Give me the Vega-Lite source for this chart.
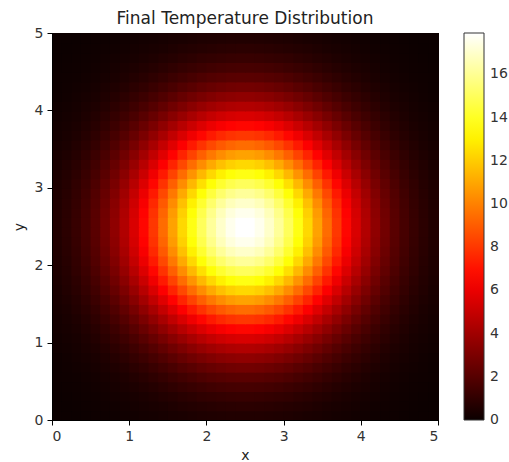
{"$schema":"https://vega.github.io/schema/vega-lite/v6.json","width":386,"height":387,"autosize":"none","padding":{"left":52,"top":33,"right":71,"bottom":42},"background":"white","title":{"text":"Final Temperature Distribution","font":"DejaVu Sans","fontSize":17,"fontWeight":"normal","color":"#222","offset":0,"dy":2,"frame":"group","anchor":"middle"},
"data":{"values":[
{"x":0,"y":0,"t":0.02},{"x":0.125,"y":0,"t":0.03},{"x":0.25,"y":0,"t":0.04},{"x":0.375,"y":0,"t":0.05},{"x":0.5,"y":0,"t":0.07},{"x":0.625,"y":0,"t":0.09},{"x":0.75,"y":0,"t":0.12},{"x":0.875,"y":0,"t":0.15},{"x":1,"y":0,"t":0.19},{"x":1.125,"y":0,"t":0.23},{"x":1.25,"y":0,"t":0.27},{"x":1.375,"y":0,"t":0.32},{"x":1.5,"y":0,"t":0.37},{"x":1.625,"y":0,"t":0.41},{"x":1.75,"y":0,"t":0.46},{"x":1.875,"y":0,"t":0.5},{"x":2,"y":0,"t":0.54},{"x":2.125,"y":0,"t":0.57},{"x":2.25,"y":0,"t":0.59},{"x":2.375,"y":0,"t":0.6},{"x":2.5,"y":0,"t":0.6},{"x":2.625,"y":0,"t":0.59},{"x":2.75,"y":0,"t":0.57},{"x":2.875,"y":0,"t":0.54},{"x":3,"y":0,"t":0.5},{"x":3.125,"y":0,"t":0.46},{"x":3.25,"y":0,"t":0.41},{"x":3.375,"y":0,"t":0.37},{"x":3.5,"y":0,"t":0.32},{"x":3.625,"y":0,"t":0.27},{"x":3.75,"y":0,"t":0.23},{"x":3.875,"y":0,"t":0.19},{"x":4,"y":0,"t":0.15},{"x":4.125,"y":0,"t":0.12},{"x":4.25,"y":0,"t":0.09},{"x":4.375,"y":0,"t":0.07},{"x":4.5,"y":0,"t":0.05},{"x":4.625,"y":0,"t":0.04},{"x":4.75,"y":0,"t":0.03},{"x":4.875,"y":0,"t":0.02},
{"x":0,"y":0.125,"t":0.03},{"x":0.125,"y":0.125,"t":0.04},{"x":0.25,"y":0.125,"t":0.06},{"x":0.375,"y":0.125,"t":0.07},{"x":0.5,"y":0.125,"t":0.1},{"x":0.625,"y":0.125,"t":0.13},{"x":0.75,"y":0.125,"t":0.17},{"x":0.875,"y":0.125,"t":0.21},{"x":1,"y":0.125,"t":0.26},{"x":1.125,"y":0.125,"t":0.32},{"x":1.25,"y":0.125,"t":0.38},{"x":1.375,"y":0.125,"t":0.44},{"x":1.5,"y":0.125,"t":0.51},{"x":1.625,"y":0.125,"t":0.58},{"x":1.75,"y":0.125,"t":0.65},{"x":1.875,"y":0.125,"t":0.71},{"x":2,"y":0.125,"t":0.76},{"x":2.125,"y":0.125,"t":0.8},{"x":2.25,"y":0.125,"t":0.83},{"x":2.375,"y":0.125,"t":0.85},{"x":2.5,"y":0.125,"t":0.85},{"x":2.625,"y":0.125,"t":0.83},{"x":2.75,"y":0.125,"t":0.8},{"x":2.875,"y":0.125,"t":0.76},{"x":3,"y":0.125,"t":0.71},{"x":3.125,"y":0.125,"t":0.65},{"x":3.25,"y":0.125,"t":0.58},{"x":3.375,"y":0.125,"t":0.51},{"x":3.5,"y":0.125,"t":0.44},{"x":3.625,"y":0.125,"t":0.38},{"x":3.75,"y":0.125,"t":0.32},{"x":3.875,"y":0.125,"t":0.26},{"x":4,"y":0.125,"t":0.21},{"x":4.125,"y":0.125,"t":0.17},{"x":4.25,"y":0.125,"t":0.13},{"x":4.375,"y":0.125,"t":0.1},{"x":4.5,"y":0.125,"t":0.07},{"x":4.625,"y":0.125,"t":0.06},{"x":4.75,"y":0.125,"t":0.04},{"x":4.875,"y":0.125,"t":0.03},
{"x":0,"y":0.25,"t":0.04},{"x":0.125,"y":0.25,"t":0.06},{"x":0.25,"y":0.25,"t":0.08},{"x":0.375,"y":0.25,"t":0.1},{"x":0.5,"y":0.25,"t":0.14},{"x":0.625,"y":0.25,"t":0.18},{"x":0.75,"y":0.25,"t":0.23},{"x":0.875,"y":0.25,"t":0.29},{"x":1,"y":0.25,"t":0.36},{"x":1.125,"y":0.25,"t":0.44},{"x":1.25,"y":0.25,"t":0.52},{"x":1.375,"y":0.25,"t":0.61},{"x":1.5,"y":0.25,"t":0.71},{"x":1.625,"y":0.25,"t":0.8},{"x":1.75,"y":0.25,"t":0.89},{"x":1.875,"y":0.25,"t":0.98},{"x":2,"y":0.25,"t":1.05},{"x":2.125,"y":0.25,"t":1.11},{"x":2.25,"y":0.25,"t":1.15},{"x":2.375,"y":0.25,"t":1.17},{"x":2.5,"y":0.25,"t":1.17},{"x":2.625,"y":0.25,"t":1.15},{"x":2.75,"y":0.25,"t":1.11},{"x":2.875,"y":0.25,"t":1.05},{"x":3,"y":0.25,"t":0.98},{"x":3.125,"y":0.25,"t":0.89},{"x":3.25,"y":0.25,"t":0.8},{"x":3.375,"y":0.25,"t":0.71},{"x":3.5,"y":0.25,"t":0.61},{"x":3.625,"y":0.25,"t":0.52},{"x":3.75,"y":0.25,"t":0.44},{"x":3.875,"y":0.25,"t":0.36},{"x":4,"y":0.25,"t":0.29},{"x":4.125,"y":0.25,"t":0.23},{"x":4.25,"y":0.25,"t":0.18},{"x":4.375,"y":0.25,"t":0.14},{"x":4.5,"y":0.25,"t":0.1},{"x":4.625,"y":0.25,"t":0.08},{"x":4.75,"y":0.25,"t":0.06},{"x":4.875,"y":0.25,"t":0.04},
{"x":0,"y":0.375,"t":0.05},{"x":0.125,"y":0.375,"t":0.07},{"x":0.25,"y":0.375,"t":0.1},{"x":0.375,"y":0.375,"t":0.14},{"x":0.5,"y":0.375,"t":0.19},{"x":0.625,"y":0.375,"t":0.24},{"x":0.75,"y":0.375,"t":0.31},{"x":0.875,"y":0.375,"t":0.39},{"x":1,"y":0.375,"t":0.49},{"x":1.125,"y":0.375,"t":0.59},{"x":1.25,"y":0.375,"t":0.71},{"x":1.375,"y":0.375,"t":0.83},{"x":1.5,"y":0.375,"t":0.96},{"x":1.625,"y":0.375,"t":1.09},{"x":1.75,"y":0.375,"t":1.21},{"x":1.875,"y":0.375,"t":1.32},{"x":2,"y":0.375,"t":1.42},{"x":2.125,"y":0.375,"t":1.5},{"x":2.25,"y":0.375,"t":1.55},{"x":2.375,"y":0.375,"t":1.58},{"x":2.5,"y":0.375,"t":1.58},{"x":2.625,"y":0.375,"t":1.55},{"x":2.75,"y":0.375,"t":1.5},{"x":2.875,"y":0.375,"t":1.42},{"x":3,"y":0.375,"t":1.32},{"x":3.125,"y":0.375,"t":1.21},{"x":3.25,"y":0.375,"t":1.09},{"x":3.375,"y":0.375,"t":0.96},{"x":3.5,"y":0.375,"t":0.83},{"x":3.625,"y":0.375,"t":0.71},{"x":3.75,"y":0.375,"t":0.59},{"x":3.875,"y":0.375,"t":0.49},{"x":4,"y":0.375,"t":0.39},{"x":4.125,"y":0.375,"t":0.31},{"x":4.25,"y":0.375,"t":0.24},{"x":4.375,"y":0.375,"t":0.19},{"x":4.5,"y":0.375,"t":0.14},{"x":4.625,"y":0.375,"t":0.1},{"x":4.75,"y":0.375,"t":0.07},{"x":4.875,"y":0.375,"t":0.05},
{"x":0,"y":0.5,"t":0.07},{"x":0.125,"y":0.5,"t":0.1},{"x":0.25,"y":0.5,"t":0.14},{"x":0.375,"y":0.5,"t":0.19},{"x":0.5,"y":0.5,"t":0.25},{"x":0.625,"y":0.5,"t":0.32},{"x":0.75,"y":0.5,"t":0.41},{"x":0.875,"y":0.5,"t":0.52},{"x":1,"y":0.5,"t":0.65},{"x":1.125,"y":0.5,"t":0.79},{"x":1.25,"y":0.5,"t":0.94},{"x":1.375,"y":0.5,"t":1.11},{"x":1.5,"y":0.5,"t":1.28},{"x":1.625,"y":0.5,"t":1.44},{"x":1.75,"y":0.5,"t":1.61},{"x":1.875,"y":0.5,"t":1.76},{"x":2,"y":0.5,"t":1.89},{"x":2.125,"y":0.5,"t":1.99},{"x":2.25,"y":0.5,"t":2.06},{"x":2.375,"y":0.5,"t":2.1},{"x":2.5,"y":0.5,"t":2.1},{"x":2.625,"y":0.5,"t":2.06},{"x":2.75,"y":0.5,"t":1.99},{"x":2.875,"y":0.5,"t":1.89},{"x":3,"y":0.5,"t":1.76},{"x":3.125,"y":0.5,"t":1.61},{"x":3.25,"y":0.5,"t":1.44},{"x":3.375,"y":0.5,"t":1.28},{"x":3.5,"y":0.5,"t":1.11},{"x":3.625,"y":0.5,"t":0.94},{"x":3.75,"y":0.5,"t":0.79},{"x":3.875,"y":0.5,"t":0.65},{"x":4,"y":0.5,"t":0.52},{"x":4.125,"y":0.5,"t":0.41},{"x":4.25,"y":0.5,"t":0.32},{"x":4.375,"y":0.5,"t":0.25},{"x":4.5,"y":0.5,"t":0.19},{"x":4.625,"y":0.5,"t":0.14},{"x":4.75,"y":0.5,"t":0.1},{"x":4.875,"y":0.5,"t":0.07},
{"x":0,"y":0.625,"t":0.09},{"x":0.125,"y":0.625,"t":0.13},{"x":0.25,"y":0.625,"t":0.18},{"x":0.375,"y":0.625,"t":0.24},{"x":0.5,"y":0.625,"t":0.32},{"x":0.625,"y":0.625,"t":0.42},{"x":0.75,"y":0.625,"t":0.54},{"x":0.875,"y":0.625,"t":0.68},{"x":1,"y":0.625,"t":0.85},{"x":1.125,"y":0.625,"t":1.03},{"x":1.25,"y":0.625,"t":1.23},{"x":1.375,"y":0.625,"t":1.44},{"x":1.5,"y":0.625,"t":1.67},{"x":1.625,"y":0.625,"t":1.89},{"x":1.75,"y":0.625,"t":2.1},{"x":1.875,"y":0.625,"t":2.3},{"x":2,"y":0.625,"t":2.47},{"x":2.125,"y":0.625,"t":2.6},{"x":2.25,"y":0.625,"t":2.7},{"x":2.375,"y":0.625,"t":2.75},{"x":2.5,"y":0.625,"t":2.75},{"x":2.625,"y":0.625,"t":2.7},{"x":2.75,"y":0.625,"t":2.6},{"x":2.875,"y":0.625,"t":2.47},{"x":3,"y":0.625,"t":2.3},{"x":3.125,"y":0.625,"t":2.1},{"x":3.25,"y":0.625,"t":1.89},{"x":3.375,"y":0.625,"t":1.67},{"x":3.5,"y":0.625,"t":1.44},{"x":3.625,"y":0.625,"t":1.23},{"x":3.75,"y":0.625,"t":1.03},{"x":3.875,"y":0.625,"t":0.85},{"x":4,"y":0.625,"t":0.68},{"x":4.125,"y":0.625,"t":0.54},{"x":4.25,"y":0.625,"t":0.42},{"x":4.375,"y":0.625,"t":0.32},{"x":4.5,"y":0.625,"t":0.24},{"x":4.625,"y":0.625,"t":0.18},{"x":4.75,"y":0.625,"t":0.13},{"x":4.875,"y":0.625,"t":0.09},
{"x":0,"y":0.75,"t":0.12},{"x":0.125,"y":0.75,"t":0.17},{"x":0.25,"y":0.75,"t":0.23},{"x":0.375,"y":0.75,"t":0.31},{"x":0.5,"y":0.75,"t":0.41},{"x":0.625,"y":0.75,"t":0.54},{"x":0.75,"y":0.75,"t":0.69},{"x":0.875,"y":0.75,"t":0.88},{"x":1,"y":0.75,"t":1.09},{"x":1.125,"y":0.75,"t":1.32},{"x":1.25,"y":0.75,"t":1.58},{"x":1.375,"y":0.75,"t":1.86},{"x":1.5,"y":0.75,"t":2.14},{"x":1.625,"y":0.75,"t":2.43},{"x":1.75,"y":0.75,"t":2.7},{"x":1.875,"y":0.75,"t":2.95},{"x":2,"y":0.75,"t":3.17},{"x":2.125,"y":0.75,"t":3.34},{"x":2.25,"y":0.75,"t":3.47},{"x":2.375,"y":0.75,"t":3.53},{"x":2.5,"y":0.75,"t":3.53},{"x":2.625,"y":0.75,"t":3.47},{"x":2.75,"y":0.75,"t":3.34},{"x":2.875,"y":0.75,"t":3.17},{"x":3,"y":0.75,"t":2.95},{"x":3.125,"y":0.75,"t":2.7},{"x":3.25,"y":0.75,"t":2.43},{"x":3.375,"y":0.75,"t":2.14},{"x":3.5,"y":0.75,"t":1.86},{"x":3.625,"y":0.75,"t":1.58},{"x":3.75,"y":0.75,"t":1.32},{"x":3.875,"y":0.75,"t":1.09},{"x":4,"y":0.75,"t":0.88},{"x":4.125,"y":0.75,"t":0.69},{"x":4.25,"y":0.75,"t":0.54},{"x":4.375,"y":0.75,"t":0.41},{"x":4.5,"y":0.75,"t":0.31},{"x":4.625,"y":0.75,"t":0.23},{"x":4.75,"y":0.75,"t":0.17},{"x":4.875,"y":0.75,"t":0.12},
{"x":0,"y":0.875,"t":0.15},{"x":0.125,"y":0.875,"t":0.21},{"x":0.25,"y":0.875,"t":0.29},{"x":0.375,"y":0.875,"t":0.39},{"x":0.5,"y":0.875,"t":0.52},{"x":0.625,"y":0.875,"t":0.68},{"x":0.75,"y":0.875,"t":0.88},{"x":0.875,"y":0.875,"t":1.11},{"x":1,"y":0.875,"t":1.37},{"x":1.125,"y":0.875,"t":1.67},{"x":1.25,"y":0.875,"t":1.99},{"x":1.375,"y":0.875,"t":2.34},{"x":1.5,"y":0.875,"t":2.7},{"x":1.625,"y":0.875,"t":3.06},{"x":1.75,"y":0.875,"t":3.4},{"x":1.875,"y":0.875,"t":3.72},{"x":2,"y":0.875,"t":4},{"x":2.125,"y":0.875,"t":4.22},{"x":2.25,"y":0.875,"t":4.37},{"x":2.375,"y":0.875,"t":4.45},{"x":2.5,"y":0.875,"t":4.45},{"x":2.625,"y":0.875,"t":4.37},{"x":2.75,"y":0.875,"t":4.22},{"x":2.875,"y":0.875,"t":4},{"x":3,"y":0.875,"t":3.72},{"x":3.125,"y":0.875,"t":3.4},{"x":3.25,"y":0.875,"t":3.06},{"x":3.375,"y":0.875,"t":2.7},{"x":3.5,"y":0.875,"t":2.34},{"x":3.625,"y":0.875,"t":1.99},{"x":3.75,"y":0.875,"t":1.67},{"x":3.875,"y":0.875,"t":1.37},{"x":4,"y":0.875,"t":1.11},{"x":4.125,"y":0.875,"t":0.88},{"x":4.25,"y":0.875,"t":0.68},{"x":4.375,"y":0.875,"t":0.52},{"x":4.5,"y":0.875,"t":0.39},{"x":4.625,"y":0.875,"t":0.29},{"x":4.75,"y":0.875,"t":0.21},{"x":4.875,"y":0.875,"t":0.15},
{"x":0,"y":1,"t":0.19},{"x":0.125,"y":1,"t":0.26},{"x":0.25,"y":1,"t":0.36},{"x":0.375,"y":1,"t":0.49},{"x":0.5,"y":1,"t":0.65},{"x":0.625,"y":1,"t":0.85},{"x":0.75,"y":1,"t":1.09},{"x":0.875,"y":1,"t":1.37},{"x":1,"y":1,"t":1.7},{"x":1.125,"y":1,"t":2.07},{"x":1.25,"y":1,"t":2.47},{"x":1.375,"y":1,"t":2.9},{"x":1.5,"y":1,"t":3.34},{"x":1.625,"y":1,"t":3.79},{"x":1.75,"y":1,"t":4.22},{"x":1.875,"y":1,"t":4.61},{"x":2,"y":1,"t":4.95},{"x":2.125,"y":1,"t":5.23},{"x":2.25,"y":1,"t":5.42},{"x":2.375,"y":1,"t":5.51},{"x":2.5,"y":1,"t":5.51},{"x":2.625,"y":1,"t":5.42},{"x":2.75,"y":1,"t":5.23},{"x":2.875,"y":1,"t":4.95},{"x":3,"y":1,"t":4.61},{"x":3.125,"y":1,"t":4.22},{"x":3.25,"y":1,"t":3.79},{"x":3.375,"y":1,"t":3.34},{"x":3.5,"y":1,"t":2.9},{"x":3.625,"y":1,"t":2.47},{"x":3.75,"y":1,"t":2.07},{"x":3.875,"y":1,"t":1.7},{"x":4,"y":1,"t":1.37},{"x":4.125,"y":1,"t":1.09},{"x":4.25,"y":1,"t":0.85},{"x":4.375,"y":1,"t":0.65},{"x":4.5,"y":1,"t":0.49},{"x":4.625,"y":1,"t":0.36},{"x":4.75,"y":1,"t":0.26},{"x":4.875,"y":1,"t":0.19},
{"x":0,"y":1.125,"t":0.23},{"x":0.125,"y":1.125,"t":0.32},{"x":0.25,"y":1.125,"t":0.44},{"x":0.375,"y":1.125,"t":0.59},{"x":0.5,"y":1.125,"t":0.79},{"x":0.625,"y":1.125,"t":1.03},{"x":0.75,"y":1.125,"t":1.32},{"x":0.875,"y":1.125,"t":1.67},{"x":1,"y":1.125,"t":2.07},{"x":1.125,"y":1.125,"t":2.51},{"x":1.25,"y":1.125,"t":3},{"x":1.375,"y":1.125,"t":3.53},{"x":1.5,"y":1.125,"t":4.07},{"x":1.625,"y":1.125,"t":4.61},{"x":1.75,"y":1.125,"t":5.13},{"x":1.875,"y":1.125,"t":5.61},{"x":2,"y":1.125,"t":6.03},{"x":2.125,"y":1.125,"t":6.36},{"x":2.25,"y":1.125,"t":6.59},{"x":2.375,"y":1.125,"t":6.71},{"x":2.5,"y":1.125,"t":6.71},{"x":2.625,"y":1.125,"t":6.59},{"x":2.75,"y":1.125,"t":6.36},{"x":2.875,"y":1.125,"t":6.03},{"x":3,"y":1.125,"t":5.61},{"x":3.125,"y":1.125,"t":5.13},{"x":3.25,"y":1.125,"t":4.61},{"x":3.375,"y":1.125,"t":4.07},{"x":3.5,"y":1.125,"t":3.53},{"x":3.625,"y":1.125,"t":3},{"x":3.75,"y":1.125,"t":2.51},{"x":3.875,"y":1.125,"t":2.07},{"x":4,"y":1.125,"t":1.67},{"x":4.125,"y":1.125,"t":1.32},{"x":4.25,"y":1.125,"t":1.03},{"x":4.375,"y":1.125,"t":0.79},{"x":4.5,"y":1.125,"t":0.59},{"x":4.625,"y":1.125,"t":0.44},{"x":4.75,"y":1.125,"t":0.32},{"x":4.875,"y":1.125,"t":0.23},
{"x":0,"y":1.25,"t":0.27},{"x":0.125,"y":1.25,"t":0.38},{"x":0.25,"y":1.25,"t":0.52},{"x":0.375,"y":1.25,"t":0.71},{"x":0.5,"y":1.25,"t":0.94},{"x":0.625,"y":1.25,"t":1.23},{"x":0.75,"y":1.25,"t":1.58},{"x":0.875,"y":1.25,"t":1.99},{"x":1,"y":1.25,"t":2.47},{"x":1.125,"y":1.25,"t":3},{"x":1.25,"y":1.25,"t":3.59},{"x":1.375,"y":1.25,"t":4.22},{"x":1.5,"y":1.25,"t":4.87},{"x":1.625,"y":1.25,"t":5.51},{"x":1.75,"y":1.25,"t":6.14},{"x":1.875,"y":1.25,"t":6.71},{"x":2,"y":1.25,"t":7.21},{"x":2.125,"y":1.25,"t":7.6},{"x":2.25,"y":1.25,"t":7.88},{"x":2.375,"y":1.25,"t":8.02},{"x":2.5,"y":1.25,"t":8.02},{"x":2.625,"y":1.25,"t":7.88},{"x":2.75,"y":1.25,"t":7.6},{"x":2.875,"y":1.25,"t":7.21},{"x":3,"y":1.25,"t":6.71},{"x":3.125,"y":1.25,"t":6.14},{"x":3.25,"y":1.25,"t":5.51},{"x":3.375,"y":1.25,"t":4.87},{"x":3.5,"y":1.25,"t":4.22},{"x":3.625,"y":1.25,"t":3.59},{"x":3.75,"y":1.25,"t":3},{"x":3.875,"y":1.25,"t":2.47},{"x":4,"y":1.25,"t":1.99},{"x":4.125,"y":1.25,"t":1.58},{"x":4.25,"y":1.25,"t":1.23},{"x":4.375,"y":1.25,"t":0.94},{"x":4.5,"y":1.25,"t":0.71},{"x":4.625,"y":1.25,"t":0.52},{"x":4.75,"y":1.25,"t":0.38},{"x":4.875,"y":1.25,"t":0.27},
{"x":0,"y":1.375,"t":0.32},{"x":0.125,"y":1.375,"t":0.44},{"x":0.25,"y":1.375,"t":0.61},{"x":0.375,"y":1.375,"t":0.83},{"x":0.5,"y":1.375,"t":1.11},{"x":0.625,"y":1.375,"t":1.44},{"x":0.75,"y":1.375,"t":1.86},{"x":0.875,"y":1.375,"t":2.34},{"x":1,"y":1.375,"t":2.9},{"x":1.125,"y":1.375,"t":3.53},{"x":1.25,"y":1.375,"t":4.22},{"x":1.375,"y":1.375,"t":4.95},{"x":1.5,"y":1.375,"t":5.71},{"x":1.625,"y":1.375,"t":6.48},{"x":1.75,"y":1.375,"t":7.21},{"x":1.875,"y":1.375,"t":7.88},{"x":2,"y":1.375,"t":8.46},{"x":2.125,"y":1.375,"t":8.93},{"x":2.25,"y":1.375,"t":9.25},{"x":2.375,"y":1.375,"t":9.42},{"x":2.5,"y":1.375,"t":9.42},{"x":2.625,"y":1.375,"t":9.25},{"x":2.75,"y":1.375,"t":8.93},{"x":2.875,"y":1.375,"t":8.46},{"x":3,"y":1.375,"t":7.88},{"x":3.125,"y":1.375,"t":7.21},{"x":3.25,"y":1.375,"t":6.48},{"x":3.375,"y":1.375,"t":5.71},{"x":3.5,"y":1.375,"t":4.95},{"x":3.625,"y":1.375,"t":4.22},{"x":3.75,"y":1.375,"t":3.53},{"x":3.875,"y":1.375,"t":2.9},{"x":4,"y":1.375,"t":2.34},{"x":4.125,"y":1.375,"t":1.86},{"x":4.25,"y":1.375,"t":1.44},{"x":4.375,"y":1.375,"t":1.11},{"x":4.5,"y":1.375,"t":0.83},{"x":4.625,"y":1.375,"t":0.61},{"x":4.75,"y":1.375,"t":0.44},{"x":4.875,"y":1.375,"t":0.32},
{"x":0,"y":1.5,"t":0.37},{"x":0.125,"y":1.5,"t":0.51},{"x":0.25,"y":1.5,"t":0.71},{"x":0.375,"y":1.5,"t":0.96},{"x":0.5,"y":1.5,"t":1.28},{"x":0.625,"y":1.5,"t":1.67},{"x":0.75,"y":1.5,"t":2.14},{"x":0.875,"y":1.5,"t":2.7},{"x":1,"y":1.5,"t":3.34},{"x":1.125,"y":1.5,"t":4.07},{"x":1.25,"y":1.5,"t":4.87},{"x":1.375,"y":1.5,"t":5.71},{"x":1.5,"y":1.5,"t":6.59},{"x":1.625,"y":1.5,"t":7.47},{"x":1.75,"y":1.5,"t":8.31},{"x":1.875,"y":1.5,"t":9.09},{"x":2,"y":1.5,"t":9.76},{"x":2.125,"y":1.5,"t":10.3},{"x":2.25,"y":1.5,"t":10.68},{"x":2.375,"y":1.5,"t":10.87},{"x":2.5,"y":1.5,"t":10.87},{"x":2.625,"y":1.5,"t":10.68},{"x":2.75,"y":1.5,"t":10.3},{"x":2.875,"y":1.5,"t":9.76},{"x":3,"y":1.5,"t":9.09},{"x":3.125,"y":1.5,"t":8.31},{"x":3.25,"y":1.5,"t":7.47},{"x":3.375,"y":1.5,"t":6.59},{"x":3.5,"y":1.5,"t":5.71},{"x":3.625,"y":1.5,"t":4.87},{"x":3.75,"y":1.5,"t":4.07},{"x":3.875,"y":1.5,"t":3.34},{"x":4,"y":1.5,"t":2.7},{"x":4.125,"y":1.5,"t":2.14},{"x":4.25,"y":1.5,"t":1.67},{"x":4.375,"y":1.5,"t":1.28},{"x":4.5,"y":1.5,"t":0.96},{"x":4.625,"y":1.5,"t":0.71},{"x":4.75,"y":1.5,"t":0.51},{"x":4.875,"y":1.5,"t":0.37},
{"x":0,"y":1.625,"t":0.41},{"x":0.125,"y":1.625,"t":0.58},{"x":0.25,"y":1.625,"t":0.8},{"x":0.375,"y":1.625,"t":1.09},{"x":0.5,"y":1.625,"t":1.44},{"x":0.625,"y":1.625,"t":1.89},{"x":0.75,"y":1.625,"t":2.43},{"x":0.875,"y":1.625,"t":3.06},{"x":1,"y":1.625,"t":3.79},{"x":1.125,"y":1.625,"t":4.61},{"x":1.25,"y":1.625,"t":5.51},{"x":1.375,"y":1.625,"t":6.48},{"x":1.5,"y":1.625,"t":7.47},{"x":1.625,"y":1.625,"t":8.46},{"x":1.75,"y":1.625,"t":9.42},{"x":1.875,"y":1.625,"t":10.3},{"x":2,"y":1.625,"t":11.06},{"x":2.125,"y":1.625,"t":11.67},{"x":2.25,"y":1.625,"t":12.1},{"x":2.375,"y":1.625,"t":12.32},{"x":2.5,"y":1.625,"t":12.32},{"x":2.625,"y":1.625,"t":12.1},{"x":2.75,"y":1.625,"t":11.67},{"x":2.875,"y":1.625,"t":11.06},{"x":3,"y":1.625,"t":10.3},{"x":3.125,"y":1.625,"t":9.42},{"x":3.25,"y":1.625,"t":8.46},{"x":3.375,"y":1.625,"t":7.47},{"x":3.5,"y":1.625,"t":6.48},{"x":3.625,"y":1.625,"t":5.51},{"x":3.75,"y":1.625,"t":4.61},{"x":3.875,"y":1.625,"t":3.79},{"x":4,"y":1.625,"t":3.06},{"x":4.125,"y":1.625,"t":2.43},{"x":4.25,"y":1.625,"t":1.89},{"x":4.375,"y":1.625,"t":1.44},{"x":4.5,"y":1.625,"t":1.09},{"x":4.625,"y":1.625,"t":0.8},{"x":4.75,"y":1.625,"t":0.58},{"x":4.875,"y":1.625,"t":0.41},
{"x":0,"y":1.75,"t":0.46},{"x":0.125,"y":1.75,"t":0.65},{"x":0.25,"y":1.75,"t":0.89},{"x":0.375,"y":1.75,"t":1.21},{"x":0.5,"y":1.75,"t":1.61},{"x":0.625,"y":1.75,"t":2.1},{"x":0.75,"y":1.75,"t":2.7},{"x":0.875,"y":1.75,"t":3.4},{"x":1,"y":1.75,"t":4.22},{"x":1.125,"y":1.75,"t":5.13},{"x":1.25,"y":1.75,"t":6.14},{"x":1.375,"y":1.75,"t":7.21},{"x":1.5,"y":1.75,"t":8.31},{"x":1.625,"y":1.75,"t":9.42},{"x":1.75,"y":1.75,"t":10.49},{"x":1.875,"y":1.75,"t":11.47},{"x":2,"y":1.75,"t":12.32},{"x":2.125,"y":1.75,"t":12.99},{"x":2.25,"y":1.75,"t":13.47},{"x":2.375,"y":1.75,"t":13.71},{"x":2.5,"y":1.75,"t":13.71},{"x":2.625,"y":1.75,"t":13.47},{"x":2.75,"y":1.75,"t":12.99},{"x":2.875,"y":1.75,"t":12.32},{"x":3,"y":1.75,"t":11.47},{"x":3.125,"y":1.75,"t":10.49},{"x":3.25,"y":1.75,"t":9.42},{"x":3.375,"y":1.75,"t":8.31},{"x":3.5,"y":1.75,"t":7.21},{"x":3.625,"y":1.75,"t":6.14},{"x":3.75,"y":1.75,"t":5.13},{"x":3.875,"y":1.75,"t":4.22},{"x":4,"y":1.75,"t":3.4},{"x":4.125,"y":1.75,"t":2.7},{"x":4.25,"y":1.75,"t":2.1},{"x":4.375,"y":1.75,"t":1.61},{"x":4.5,"y":1.75,"t":1.21},{"x":4.625,"y":1.75,"t":0.89},{"x":4.75,"y":1.75,"t":0.65},{"x":4.875,"y":1.75,"t":0.46},
{"x":0,"y":1.875,"t":0.5},{"x":0.125,"y":1.875,"t":0.71},{"x":0.25,"y":1.875,"t":0.98},{"x":0.375,"y":1.875,"t":1.32},{"x":0.5,"y":1.875,"t":1.76},{"x":0.625,"y":1.875,"t":2.3},{"x":0.75,"y":1.875,"t":2.95},{"x":0.875,"y":1.875,"t":3.72},{"x":1,"y":1.875,"t":4.61},{"x":1.125,"y":1.875,"t":5.61},{"x":1.25,"y":1.875,"t":6.71},{"x":1.375,"y":1.875,"t":7.88},{"x":1.5,"y":1.875,"t":9.09},{"x":1.625,"y":1.875,"t":10.3},{"x":1.75,"y":1.875,"t":11.47},{"x":1.875,"y":1.875,"t":12.54},{"x":2,"y":1.875,"t":13.47},{"x":2.125,"y":1.875,"t":14.21},{"x":2.25,"y":1.875,"t":14.72},{"x":2.375,"y":1.875,"t":14.99},{"x":2.5,"y":1.875,"t":14.99},{"x":2.625,"y":1.875,"t":14.72},{"x":2.75,"y":1.875,"t":14.21},{"x":2.875,"y":1.875,"t":13.47},{"x":3,"y":1.875,"t":12.54},{"x":3.125,"y":1.875,"t":11.47},{"x":3.25,"y":1.875,"t":10.3},{"x":3.375,"y":1.875,"t":9.09},{"x":3.5,"y":1.875,"t":7.88},{"x":3.625,"y":1.875,"t":6.71},{"x":3.75,"y":1.875,"t":5.61},{"x":3.875,"y":1.875,"t":4.61},{"x":4,"y":1.875,"t":3.72},{"x":4.125,"y":1.875,"t":2.95},{"x":4.25,"y":1.875,"t":2.3},{"x":4.375,"y":1.875,"t":1.76},{"x":4.5,"y":1.875,"t":1.32},{"x":4.625,"y":1.875,"t":0.98},{"x":4.75,"y":1.875,"t":0.71},{"x":4.875,"y":1.875,"t":0.5},
{"x":0,"y":2,"t":0.54},{"x":0.125,"y":2,"t":0.76},{"x":0.25,"y":2,"t":1.05},{"x":0.375,"y":2,"t":1.42},{"x":0.5,"y":2,"t":1.89},{"x":0.625,"y":2,"t":2.47},{"x":0.75,"y":2,"t":3.17},{"x":0.875,"y":2,"t":4},{"x":1,"y":2,"t":4.95},{"x":1.125,"y":2,"t":6.03},{"x":1.25,"y":2,"t":7.21},{"x":1.375,"y":2,"t":8.46},{"x":1.5,"y":2,"t":9.76},{"x":1.625,"y":2,"t":11.06},{"x":1.75,"y":2,"t":12.32},{"x":1.875,"y":2,"t":13.47},{"x":2,"y":2,"t":14.46},{"x":2.125,"y":2,"t":15.26},{"x":2.25,"y":2,"t":15.81},{"x":2.375,"y":2,"t":16.1},{"x":2.5,"y":2,"t":16.1},{"x":2.625,"y":2,"t":15.81},{"x":2.75,"y":2,"t":15.26},{"x":2.875,"y":2,"t":14.46},{"x":3,"y":2,"t":13.47},{"x":3.125,"y":2,"t":12.32},{"x":3.25,"y":2,"t":11.06},{"x":3.375,"y":2,"t":9.76},{"x":3.5,"y":2,"t":8.46},{"x":3.625,"y":2,"t":7.21},{"x":3.75,"y":2,"t":6.03},{"x":3.875,"y":2,"t":4.95},{"x":4,"y":2,"t":4},{"x":4.125,"y":2,"t":3.17},{"x":4.25,"y":2,"t":2.47},{"x":4.375,"y":2,"t":1.89},{"x":4.5,"y":2,"t":1.42},{"x":4.625,"y":2,"t":1.05},{"x":4.75,"y":2,"t":0.76},{"x":4.875,"y":2,"t":0.54},
{"x":0,"y":2.125,"t":0.57},{"x":0.125,"y":2.125,"t":0.8},{"x":0.25,"y":2.125,"t":1.11},{"x":0.375,"y":2.125,"t":1.5},{"x":0.5,"y":2.125,"t":1.99},{"x":0.625,"y":2.125,"t":2.6},{"x":0.75,"y":2.125,"t":3.34},{"x":0.875,"y":2.125,"t":4.22},{"x":1,"y":2.125,"t":5.23},{"x":1.125,"y":2.125,"t":6.36},{"x":1.25,"y":2.125,"t":7.6},{"x":1.375,"y":2.125,"t":8.93},{"x":1.5,"y":2.125,"t":10.3},{"x":1.625,"y":2.125,"t":11.67},{"x":1.75,"y":2.125,"t":12.99},{"x":1.875,"y":2.125,"t":14.21},{"x":2,"y":2.125,"t":15.26},{"x":2.125,"y":2.125,"t":16.1},{"x":2.25,"y":2.125,"t":16.68},{"x":2.375,"y":2.125,"t":16.98},{"x":2.5,"y":2.125,"t":16.98},{"x":2.625,"y":2.125,"t":16.68},{"x":2.75,"y":2.125,"t":16.1},{"x":2.875,"y":2.125,"t":15.26},{"x":3,"y":2.125,"t":14.21},{"x":3.125,"y":2.125,"t":12.99},{"x":3.25,"y":2.125,"t":11.67},{"x":3.375,"y":2.125,"t":10.3},{"x":3.5,"y":2.125,"t":8.93},{"x":3.625,"y":2.125,"t":7.6},{"x":3.75,"y":2.125,"t":6.36},{"x":3.875,"y":2.125,"t":5.23},{"x":4,"y":2.125,"t":4.22},{"x":4.125,"y":2.125,"t":3.34},{"x":4.25,"y":2.125,"t":2.6},{"x":4.375,"y":2.125,"t":1.99},{"x":4.5,"y":2.125,"t":1.5},{"x":4.625,"y":2.125,"t":1.11},{"x":4.75,"y":2.125,"t":0.8},{"x":4.875,"y":2.125,"t":0.57},
{"x":0,"y":2.25,"t":0.59},{"x":0.125,"y":2.25,"t":0.83},{"x":0.25,"y":2.25,"t":1.15},{"x":0.375,"y":2.25,"t":1.55},{"x":0.5,"y":2.25,"t":2.06},{"x":0.625,"y":2.25,"t":2.7},{"x":0.75,"y":2.25,"t":3.47},{"x":0.875,"y":2.25,"t":4.37},{"x":1,"y":2.25,"t":5.42},{"x":1.125,"y":2.25,"t":6.59},{"x":1.25,"y":2.25,"t":7.88},{"x":1.375,"y":2.25,"t":9.25},{"x":1.5,"y":2.25,"t":10.68},{"x":1.625,"y":2.25,"t":12.1},{"x":1.75,"y":2.25,"t":13.47},{"x":1.875,"y":2.25,"t":14.72},{"x":2,"y":2.25,"t":15.81},{"x":2.125,"y":2.25,"t":16.68},{"x":2.25,"y":2.25,"t":17.29},{"x":2.375,"y":2.25,"t":17.6},{"x":2.5,"y":2.25,"t":17.6},{"x":2.625,"y":2.25,"t":17.29},{"x":2.75,"y":2.25,"t":16.68},{"x":2.875,"y":2.25,"t":15.81},{"x":3,"y":2.25,"t":14.72},{"x":3.125,"y":2.25,"t":13.47},{"x":3.25,"y":2.25,"t":12.1},{"x":3.375,"y":2.25,"t":10.68},{"x":3.5,"y":2.25,"t":9.25},{"x":3.625,"y":2.25,"t":7.88},{"x":3.75,"y":2.25,"t":6.59},{"x":3.875,"y":2.25,"t":5.42},{"x":4,"y":2.25,"t":4.37},{"x":4.125,"y":2.25,"t":3.47},{"x":4.25,"y":2.25,"t":2.7},{"x":4.375,"y":2.25,"t":2.06},{"x":4.5,"y":2.25,"t":1.55},{"x":4.625,"y":2.25,"t":1.15},{"x":4.75,"y":2.25,"t":0.83},{"x":4.875,"y":2.25,"t":0.59},
{"x":0,"y":2.375,"t":0.6},{"x":0.125,"y":2.375,"t":0.85},{"x":0.25,"y":2.375,"t":1.17},{"x":0.375,"y":2.375,"t":1.58},{"x":0.5,"y":2.375,"t":2.1},{"x":0.625,"y":2.375,"t":2.75},{"x":0.75,"y":2.375,"t":3.53},{"x":0.875,"y":2.375,"t":4.45},{"x":1,"y":2.375,"t":5.51},{"x":1.125,"y":2.375,"t":6.71},{"x":1.25,"y":2.375,"t":8.02},{"x":1.375,"y":2.375,"t":9.42},{"x":1.5,"y":2.375,"t":10.87},{"x":1.625,"y":2.375,"t":12.32},{"x":1.75,"y":2.375,"t":13.71},{"x":1.875,"y":2.375,"t":14.99},{"x":2,"y":2.375,"t":16.1},{"x":2.125,"y":2.375,"t":16.98},{"x":2.25,"y":2.375,"t":17.6},{"x":2.375,"y":2.375,"t":17.92},{"x":2.5,"y":2.375,"t":17.92},{"x":2.625,"y":2.375,"t":17.6},{"x":2.75,"y":2.375,"t":16.98},{"x":2.875,"y":2.375,"t":16.1},{"x":3,"y":2.375,"t":14.99},{"x":3.125,"y":2.375,"t":13.71},{"x":3.25,"y":2.375,"t":12.32},{"x":3.375,"y":2.375,"t":10.87},{"x":3.5,"y":2.375,"t":9.42},{"x":3.625,"y":2.375,"t":8.02},{"x":3.75,"y":2.375,"t":6.71},{"x":3.875,"y":2.375,"t":5.51},{"x":4,"y":2.375,"t":4.45},{"x":4.125,"y":2.375,"t":3.53},{"x":4.25,"y":2.375,"t":2.75},{"x":4.375,"y":2.375,"t":2.1},{"x":4.5,"y":2.375,"t":1.58},{"x":4.625,"y":2.375,"t":1.17},{"x":4.75,"y":2.375,"t":0.85},{"x":4.875,"y":2.375,"t":0.6},
{"x":0,"y":2.5,"t":0.6},{"x":0.125,"y":2.5,"t":0.85},{"x":0.25,"y":2.5,"t":1.17},{"x":0.375,"y":2.5,"t":1.58},{"x":0.5,"y":2.5,"t":2.1},{"x":0.625,"y":2.5,"t":2.75},{"x":0.75,"y":2.5,"t":3.53},{"x":0.875,"y":2.5,"t":4.45},{"x":1,"y":2.5,"t":5.51},{"x":1.125,"y":2.5,"t":6.71},{"x":1.25,"y":2.5,"t":8.02},{"x":1.375,"y":2.5,"t":9.42},{"x":1.5,"y":2.5,"t":10.87},{"x":1.625,"y":2.5,"t":12.32},{"x":1.75,"y":2.5,"t":13.71},{"x":1.875,"y":2.5,"t":14.99},{"x":2,"y":2.5,"t":16.1},{"x":2.125,"y":2.5,"t":16.98},{"x":2.25,"y":2.5,"t":17.6},{"x":2.375,"y":2.5,"t":17.92},{"x":2.5,"y":2.5,"t":17.92},{"x":2.625,"y":2.5,"t":17.6},{"x":2.75,"y":2.5,"t":16.98},{"x":2.875,"y":2.5,"t":16.1},{"x":3,"y":2.5,"t":14.99},{"x":3.125,"y":2.5,"t":13.71},{"x":3.25,"y":2.5,"t":12.32},{"x":3.375,"y":2.5,"t":10.87},{"x":3.5,"y":2.5,"t":9.42},{"x":3.625,"y":2.5,"t":8.02},{"x":3.75,"y":2.5,"t":6.71},{"x":3.875,"y":2.5,"t":5.51},{"x":4,"y":2.5,"t":4.45},{"x":4.125,"y":2.5,"t":3.53},{"x":4.25,"y":2.5,"t":2.75},{"x":4.375,"y":2.5,"t":2.1},{"x":4.5,"y":2.5,"t":1.58},{"x":4.625,"y":2.5,"t":1.17},{"x":4.75,"y":2.5,"t":0.85},{"x":4.875,"y":2.5,"t":0.6},
{"x":0,"y":2.625,"t":0.59},{"x":0.125,"y":2.625,"t":0.83},{"x":0.25,"y":2.625,"t":1.15},{"x":0.375,"y":2.625,"t":1.55},{"x":0.5,"y":2.625,"t":2.06},{"x":0.625,"y":2.625,"t":2.7},{"x":0.75,"y":2.625,"t":3.47},{"x":0.875,"y":2.625,"t":4.37},{"x":1,"y":2.625,"t":5.42},{"x":1.125,"y":2.625,"t":6.59},{"x":1.25,"y":2.625,"t":7.88},{"x":1.375,"y":2.625,"t":9.25},{"x":1.5,"y":2.625,"t":10.68},{"x":1.625,"y":2.625,"t":12.1},{"x":1.75,"y":2.625,"t":13.47},{"x":1.875,"y":2.625,"t":14.72},{"x":2,"y":2.625,"t":15.81},{"x":2.125,"y":2.625,"t":16.68},{"x":2.25,"y":2.625,"t":17.29},{"x":2.375,"y":2.625,"t":17.6},{"x":2.5,"y":2.625,"t":17.6},{"x":2.625,"y":2.625,"t":17.29},{"x":2.75,"y":2.625,"t":16.68},{"x":2.875,"y":2.625,"t":15.81},{"x":3,"y":2.625,"t":14.72},{"x":3.125,"y":2.625,"t":13.47},{"x":3.25,"y":2.625,"t":12.1},{"x":3.375,"y":2.625,"t":10.68},{"x":3.5,"y":2.625,"t":9.25},{"x":3.625,"y":2.625,"t":7.88},{"x":3.75,"y":2.625,"t":6.59},{"x":3.875,"y":2.625,"t":5.42},{"x":4,"y":2.625,"t":4.37},{"x":4.125,"y":2.625,"t":3.47},{"x":4.25,"y":2.625,"t":2.7},{"x":4.375,"y":2.625,"t":2.06},{"x":4.5,"y":2.625,"t":1.55},{"x":4.625,"y":2.625,"t":1.15},{"x":4.75,"y":2.625,"t":0.83},{"x":4.875,"y":2.625,"t":0.59},
{"x":0,"y":2.75,"t":0.57},{"x":0.125,"y":2.75,"t":0.8},{"x":0.25,"y":2.75,"t":1.11},{"x":0.375,"y":2.75,"t":1.5},{"x":0.5,"y":2.75,"t":1.99},{"x":0.625,"y":2.75,"t":2.6},{"x":0.75,"y":2.75,"t":3.34},{"x":0.875,"y":2.75,"t":4.22},{"x":1,"y":2.75,"t":5.23},{"x":1.125,"y":2.75,"t":6.36},{"x":1.25,"y":2.75,"t":7.6},{"x":1.375,"y":2.75,"t":8.93},{"x":1.5,"y":2.75,"t":10.3},{"x":1.625,"y":2.75,"t":11.67},{"x":1.75,"y":2.75,"t":12.99},{"x":1.875,"y":2.75,"t":14.21},{"x":2,"y":2.75,"t":15.26},{"x":2.125,"y":2.75,"t":16.1},{"x":2.25,"y":2.75,"t":16.68},{"x":2.375,"y":2.75,"t":16.98},{"x":2.5,"y":2.75,"t":16.98},{"x":2.625,"y":2.75,"t":16.68},{"x":2.75,"y":2.75,"t":16.1},{"x":2.875,"y":2.75,"t":15.26},{"x":3,"y":2.75,"t":14.21},{"x":3.125,"y":2.75,"t":12.99},{"x":3.25,"y":2.75,"t":11.67},{"x":3.375,"y":2.75,"t":10.3},{"x":3.5,"y":2.75,"t":8.93},{"x":3.625,"y":2.75,"t":7.6},{"x":3.75,"y":2.75,"t":6.36},{"x":3.875,"y":2.75,"t":5.23},{"x":4,"y":2.75,"t":4.22},{"x":4.125,"y":2.75,"t":3.34},{"x":4.25,"y":2.75,"t":2.6},{"x":4.375,"y":2.75,"t":1.99},{"x":4.5,"y":2.75,"t":1.5},{"x":4.625,"y":2.75,"t":1.11},{"x":4.75,"y":2.75,"t":0.8},{"x":4.875,"y":2.75,"t":0.57},
{"x":0,"y":2.875,"t":0.54},{"x":0.125,"y":2.875,"t":0.76},{"x":0.25,"y":2.875,"t":1.05},{"x":0.375,"y":2.875,"t":1.42},{"x":0.5,"y":2.875,"t":1.89},{"x":0.625,"y":2.875,"t":2.47},{"x":0.75,"y":2.875,"t":3.17},{"x":0.875,"y":2.875,"t":4},{"x":1,"y":2.875,"t":4.95},{"x":1.125,"y":2.875,"t":6.03},{"x":1.25,"y":2.875,"t":7.21},{"x":1.375,"y":2.875,"t":8.46},{"x":1.5,"y":2.875,"t":9.76},{"x":1.625,"y":2.875,"t":11.06},{"x":1.75,"y":2.875,"t":12.32},{"x":1.875,"y":2.875,"t":13.47},{"x":2,"y":2.875,"t":14.46},{"x":2.125,"y":2.875,"t":15.26},{"x":2.25,"y":2.875,"t":15.81},{"x":2.375,"y":2.875,"t":16.1},{"x":2.5,"y":2.875,"t":16.1},{"x":2.625,"y":2.875,"t":15.81},{"x":2.75,"y":2.875,"t":15.26},{"x":2.875,"y":2.875,"t":14.46},{"x":3,"y":2.875,"t":13.47},{"x":3.125,"y":2.875,"t":12.32},{"x":3.25,"y":2.875,"t":11.06},{"x":3.375,"y":2.875,"t":9.76},{"x":3.5,"y":2.875,"t":8.46},{"x":3.625,"y":2.875,"t":7.21},{"x":3.75,"y":2.875,"t":6.03},{"x":3.875,"y":2.875,"t":4.95},{"x":4,"y":2.875,"t":4},{"x":4.125,"y":2.875,"t":3.17},{"x":4.25,"y":2.875,"t":2.47},{"x":4.375,"y":2.875,"t":1.89},{"x":4.5,"y":2.875,"t":1.42},{"x":4.625,"y":2.875,"t":1.05},{"x":4.75,"y":2.875,"t":0.76},{"x":4.875,"y":2.875,"t":0.54},
{"x":0,"y":3,"t":0.5},{"x":0.125,"y":3,"t":0.71},{"x":0.25,"y":3,"t":0.98},{"x":0.375,"y":3,"t":1.32},{"x":0.5,"y":3,"t":1.76},{"x":0.625,"y":3,"t":2.3},{"x":0.75,"y":3,"t":2.95},{"x":0.875,"y":3,"t":3.72},{"x":1,"y":3,"t":4.61},{"x":1.125,"y":3,"t":5.61},{"x":1.25,"y":3,"t":6.71},{"x":1.375,"y":3,"t":7.88},{"x":1.5,"y":3,"t":9.09},{"x":1.625,"y":3,"t":10.3},{"x":1.75,"y":3,"t":11.47},{"x":1.875,"y":3,"t":12.54},{"x":2,"y":3,"t":13.47},{"x":2.125,"y":3,"t":14.21},{"x":2.25,"y":3,"t":14.72},{"x":2.375,"y":3,"t":14.99},{"x":2.5,"y":3,"t":14.99},{"x":2.625,"y":3,"t":14.72},{"x":2.75,"y":3,"t":14.21},{"x":2.875,"y":3,"t":13.47},{"x":3,"y":3,"t":12.54},{"x":3.125,"y":3,"t":11.47},{"x":3.25,"y":3,"t":10.3},{"x":3.375,"y":3,"t":9.09},{"x":3.5,"y":3,"t":7.88},{"x":3.625,"y":3,"t":6.71},{"x":3.75,"y":3,"t":5.61},{"x":3.875,"y":3,"t":4.61},{"x":4,"y":3,"t":3.72},{"x":4.125,"y":3,"t":2.95},{"x":4.25,"y":3,"t":2.3},{"x":4.375,"y":3,"t":1.76},{"x":4.5,"y":3,"t":1.32},{"x":4.625,"y":3,"t":0.98},{"x":4.75,"y":3,"t":0.71},{"x":4.875,"y":3,"t":0.5},
{"x":0,"y":3.125,"t":0.46},{"x":0.125,"y":3.125,"t":0.65},{"x":0.25,"y":3.125,"t":0.89},{"x":0.375,"y":3.125,"t":1.21},{"x":0.5,"y":3.125,"t":1.61},{"x":0.625,"y":3.125,"t":2.1},{"x":0.75,"y":3.125,"t":2.7},{"x":0.875,"y":3.125,"t":3.4},{"x":1,"y":3.125,"t":4.22},{"x":1.125,"y":3.125,"t":5.13},{"x":1.25,"y":3.125,"t":6.14},{"x":1.375,"y":3.125,"t":7.21},{"x":1.5,"y":3.125,"t":8.31},{"x":1.625,"y":3.125,"t":9.42},{"x":1.75,"y":3.125,"t":10.49},{"x":1.875,"y":3.125,"t":11.47},{"x":2,"y":3.125,"t":12.32},{"x":2.125,"y":3.125,"t":12.99},{"x":2.25,"y":3.125,"t":13.47},{"x":2.375,"y":3.125,"t":13.71},{"x":2.5,"y":3.125,"t":13.71},{"x":2.625,"y":3.125,"t":13.47},{"x":2.75,"y":3.125,"t":12.99},{"x":2.875,"y":3.125,"t":12.32},{"x":3,"y":3.125,"t":11.47},{"x":3.125,"y":3.125,"t":10.49},{"x":3.25,"y":3.125,"t":9.42},{"x":3.375,"y":3.125,"t":8.31},{"x":3.5,"y":3.125,"t":7.21},{"x":3.625,"y":3.125,"t":6.14},{"x":3.75,"y":3.125,"t":5.13},{"x":3.875,"y":3.125,"t":4.22},{"x":4,"y":3.125,"t":3.4},{"x":4.125,"y":3.125,"t":2.7},{"x":4.25,"y":3.125,"t":2.1},{"x":4.375,"y":3.125,"t":1.61},{"x":4.5,"y":3.125,"t":1.21},{"x":4.625,"y":3.125,"t":0.89},{"x":4.75,"y":3.125,"t":0.65},{"x":4.875,"y":3.125,"t":0.46},
{"x":0,"y":3.25,"t":0.41},{"x":0.125,"y":3.25,"t":0.58},{"x":0.25,"y":3.25,"t":0.8},{"x":0.375,"y":3.25,"t":1.09},{"x":0.5,"y":3.25,"t":1.44},{"x":0.625,"y":3.25,"t":1.89},{"x":0.75,"y":3.25,"t":2.43},{"x":0.875,"y":3.25,"t":3.06},{"x":1,"y":3.25,"t":3.79},{"x":1.125,"y":3.25,"t":4.61},{"x":1.25,"y":3.25,"t":5.51},{"x":1.375,"y":3.25,"t":6.48},{"x":1.5,"y":3.25,"t":7.47},{"x":1.625,"y":3.25,"t":8.46},{"x":1.75,"y":3.25,"t":9.42},{"x":1.875,"y":3.25,"t":10.3},{"x":2,"y":3.25,"t":11.06},{"x":2.125,"y":3.25,"t":11.67},{"x":2.25,"y":3.25,"t":12.1},{"x":2.375,"y":3.25,"t":12.32},{"x":2.5,"y":3.25,"t":12.32},{"x":2.625,"y":3.25,"t":12.1},{"x":2.75,"y":3.25,"t":11.67},{"x":2.875,"y":3.25,"t":11.06},{"x":3,"y":3.25,"t":10.3},{"x":3.125,"y":3.25,"t":9.42},{"x":3.25,"y":3.25,"t":8.46},{"x":3.375,"y":3.25,"t":7.47},{"x":3.5,"y":3.25,"t":6.48},{"x":3.625,"y":3.25,"t":5.51},{"x":3.75,"y":3.25,"t":4.61},{"x":3.875,"y":3.25,"t":3.79},{"x":4,"y":3.25,"t":3.06},{"x":4.125,"y":3.25,"t":2.43},{"x":4.25,"y":3.25,"t":1.89},{"x":4.375,"y":3.25,"t":1.44},{"x":4.5,"y":3.25,"t":1.09},{"x":4.625,"y":3.25,"t":0.8},{"x":4.75,"y":3.25,"t":0.58},{"x":4.875,"y":3.25,"t":0.41},
{"x":0,"y":3.375,"t":0.37},{"x":0.125,"y":3.375,"t":0.51},{"x":0.25,"y":3.375,"t":0.71},{"x":0.375,"y":3.375,"t":0.96},{"x":0.5,"y":3.375,"t":1.28},{"x":0.625,"y":3.375,"t":1.67},{"x":0.75,"y":3.375,"t":2.14},{"x":0.875,"y":3.375,"t":2.7},{"x":1,"y":3.375,"t":3.34},{"x":1.125,"y":3.375,"t":4.07},{"x":1.25,"y":3.375,"t":4.87},{"x":1.375,"y":3.375,"t":5.71},{"x":1.5,"y":3.375,"t":6.59},{"x":1.625,"y":3.375,"t":7.47},{"x":1.75,"y":3.375,"t":8.31},{"x":1.875,"y":3.375,"t":9.09},{"x":2,"y":3.375,"t":9.76},{"x":2.125,"y":3.375,"t":10.3},{"x":2.25,"y":3.375,"t":10.68},{"x":2.375,"y":3.375,"t":10.87},{"x":2.5,"y":3.375,"t":10.87},{"x":2.625,"y":3.375,"t":10.68},{"x":2.75,"y":3.375,"t":10.3},{"x":2.875,"y":3.375,"t":9.76},{"x":3,"y":3.375,"t":9.09},{"x":3.125,"y":3.375,"t":8.31},{"x":3.25,"y":3.375,"t":7.47},{"x":3.375,"y":3.375,"t":6.59},{"x":3.5,"y":3.375,"t":5.71},{"x":3.625,"y":3.375,"t":4.87},{"x":3.75,"y":3.375,"t":4.07},{"x":3.875,"y":3.375,"t":3.34},{"x":4,"y":3.375,"t":2.7},{"x":4.125,"y":3.375,"t":2.14},{"x":4.25,"y":3.375,"t":1.67},{"x":4.375,"y":3.375,"t":1.28},{"x":4.5,"y":3.375,"t":0.96},{"x":4.625,"y":3.375,"t":0.71},{"x":4.75,"y":3.375,"t":0.51},{"x":4.875,"y":3.375,"t":0.37},
{"x":0,"y":3.5,"t":0.32},{"x":0.125,"y":3.5,"t":0.44},{"x":0.25,"y":3.5,"t":0.61},{"x":0.375,"y":3.5,"t":0.83},{"x":0.5,"y":3.5,"t":1.11},{"x":0.625,"y":3.5,"t":1.44},{"x":0.75,"y":3.5,"t":1.86},{"x":0.875,"y":3.5,"t":2.34},{"x":1,"y":3.5,"t":2.9},{"x":1.125,"y":3.5,"t":3.53},{"x":1.25,"y":3.5,"t":4.22},{"x":1.375,"y":3.5,"t":4.95},{"x":1.5,"y":3.5,"t":5.71},{"x":1.625,"y":3.5,"t":6.48},{"x":1.75,"y":3.5,"t":7.21},{"x":1.875,"y":3.5,"t":7.88},{"x":2,"y":3.5,"t":8.46},{"x":2.125,"y":3.5,"t":8.93},{"x":2.25,"y":3.5,"t":9.25},{"x":2.375,"y":3.5,"t":9.42},{"x":2.5,"y":3.5,"t":9.42},{"x":2.625,"y":3.5,"t":9.25},{"x":2.75,"y":3.5,"t":8.93},{"x":2.875,"y":3.5,"t":8.46},{"x":3,"y":3.5,"t":7.88},{"x":3.125,"y":3.5,"t":7.21},{"x":3.25,"y":3.5,"t":6.48},{"x":3.375,"y":3.5,"t":5.71},{"x":3.5,"y":3.5,"t":4.95},{"x":3.625,"y":3.5,"t":4.22},{"x":3.75,"y":3.5,"t":3.53},{"x":3.875,"y":3.5,"t":2.9},{"x":4,"y":3.5,"t":2.34},{"x":4.125,"y":3.5,"t":1.86},{"x":4.25,"y":3.5,"t":1.44},{"x":4.375,"y":3.5,"t":1.11},{"x":4.5,"y":3.5,"t":0.83},{"x":4.625,"y":3.5,"t":0.61},{"x":4.75,"y":3.5,"t":0.44},{"x":4.875,"y":3.5,"t":0.32},
{"x":0,"y":3.625,"t":0.27},{"x":0.125,"y":3.625,"t":0.38},{"x":0.25,"y":3.625,"t":0.52},{"x":0.375,"y":3.625,"t":0.71},{"x":0.5,"y":3.625,"t":0.94},{"x":0.625,"y":3.625,"t":1.23},{"x":0.75,"y":3.625,"t":1.58},{"x":0.875,"y":3.625,"t":1.99},{"x":1,"y":3.625,"t":2.47},{"x":1.125,"y":3.625,"t":3},{"x":1.25,"y":3.625,"t":3.59},{"x":1.375,"y":3.625,"t":4.22},{"x":1.5,"y":3.625,"t":4.87},{"x":1.625,"y":3.625,"t":5.51},{"x":1.75,"y":3.625,"t":6.14},{"x":1.875,"y":3.625,"t":6.71},{"x":2,"y":3.625,"t":7.21},{"x":2.125,"y":3.625,"t":7.6},{"x":2.25,"y":3.625,"t":7.88},{"x":2.375,"y":3.625,"t":8.02},{"x":2.5,"y":3.625,"t":8.02},{"x":2.625,"y":3.625,"t":7.88},{"x":2.75,"y":3.625,"t":7.6},{"x":2.875,"y":3.625,"t":7.21},{"x":3,"y":3.625,"t":6.71},{"x":3.125,"y":3.625,"t":6.14},{"x":3.25,"y":3.625,"t":5.51},{"x":3.375,"y":3.625,"t":4.87},{"x":3.5,"y":3.625,"t":4.22},{"x":3.625,"y":3.625,"t":3.59},{"x":3.75,"y":3.625,"t":3},{"x":3.875,"y":3.625,"t":2.47},{"x":4,"y":3.625,"t":1.99},{"x":4.125,"y":3.625,"t":1.58},{"x":4.25,"y":3.625,"t":1.23},{"x":4.375,"y":3.625,"t":0.94},{"x":4.5,"y":3.625,"t":0.71},{"x":4.625,"y":3.625,"t":0.52},{"x":4.75,"y":3.625,"t":0.38},{"x":4.875,"y":3.625,"t":0.27},
{"x":0,"y":3.75,"t":0.23},{"x":0.125,"y":3.75,"t":0.32},{"x":0.25,"y":3.75,"t":0.44},{"x":0.375,"y":3.75,"t":0.59},{"x":0.5,"y":3.75,"t":0.79},{"x":0.625,"y":3.75,"t":1.03},{"x":0.75,"y":3.75,"t":1.32},{"x":0.875,"y":3.75,"t":1.67},{"x":1,"y":3.75,"t":2.07},{"x":1.125,"y":3.75,"t":2.51},{"x":1.25,"y":3.75,"t":3},{"x":1.375,"y":3.75,"t":3.53},{"x":1.5,"y":3.75,"t":4.07},{"x":1.625,"y":3.75,"t":4.61},{"x":1.75,"y":3.75,"t":5.13},{"x":1.875,"y":3.75,"t":5.61},{"x":2,"y":3.75,"t":6.03},{"x":2.125,"y":3.75,"t":6.36},{"x":2.25,"y":3.75,"t":6.59},{"x":2.375,"y":3.75,"t":6.71},{"x":2.5,"y":3.75,"t":6.71},{"x":2.625,"y":3.75,"t":6.59},{"x":2.75,"y":3.75,"t":6.36},{"x":2.875,"y":3.75,"t":6.03},{"x":3,"y":3.75,"t":5.61},{"x":3.125,"y":3.75,"t":5.13},{"x":3.25,"y":3.75,"t":4.61},{"x":3.375,"y":3.75,"t":4.07},{"x":3.5,"y":3.75,"t":3.53},{"x":3.625,"y":3.75,"t":3},{"x":3.75,"y":3.75,"t":2.51},{"x":3.875,"y":3.75,"t":2.07},{"x":4,"y":3.75,"t":1.67},{"x":4.125,"y":3.75,"t":1.32},{"x":4.25,"y":3.75,"t":1.03},{"x":4.375,"y":3.75,"t":0.79},{"x":4.5,"y":3.75,"t":0.59},{"x":4.625,"y":3.75,"t":0.44},{"x":4.75,"y":3.75,"t":0.32},{"x":4.875,"y":3.75,"t":0.23},
{"x":0,"y":3.875,"t":0.19},{"x":0.125,"y":3.875,"t":0.26},{"x":0.25,"y":3.875,"t":0.36},{"x":0.375,"y":3.875,"t":0.49},{"x":0.5,"y":3.875,"t":0.65},{"x":0.625,"y":3.875,"t":0.85},{"x":0.75,"y":3.875,"t":1.09},{"x":0.875,"y":3.875,"t":1.37},{"x":1,"y":3.875,"t":1.7},{"x":1.125,"y":3.875,"t":2.07},{"x":1.25,"y":3.875,"t":2.47},{"x":1.375,"y":3.875,"t":2.9},{"x":1.5,"y":3.875,"t":3.34},{"x":1.625,"y":3.875,"t":3.79},{"x":1.75,"y":3.875,"t":4.22},{"x":1.875,"y":3.875,"t":4.61},{"x":2,"y":3.875,"t":4.95},{"x":2.125,"y":3.875,"t":5.23},{"x":2.25,"y":3.875,"t":5.42},{"x":2.375,"y":3.875,"t":5.51},{"x":2.5,"y":3.875,"t":5.51},{"x":2.625,"y":3.875,"t":5.42},{"x":2.75,"y":3.875,"t":5.23},{"x":2.875,"y":3.875,"t":4.95},{"x":3,"y":3.875,"t":4.61},{"x":3.125,"y":3.875,"t":4.22},{"x":3.25,"y":3.875,"t":3.79},{"x":3.375,"y":3.875,"t":3.34},{"x":3.5,"y":3.875,"t":2.9},{"x":3.625,"y":3.875,"t":2.47},{"x":3.75,"y":3.875,"t":2.07},{"x":3.875,"y":3.875,"t":1.7},{"x":4,"y":3.875,"t":1.37},{"x":4.125,"y":3.875,"t":1.09},{"x":4.25,"y":3.875,"t":0.85},{"x":4.375,"y":3.875,"t":0.65},{"x":4.5,"y":3.875,"t":0.49},{"x":4.625,"y":3.875,"t":0.36},{"x":4.75,"y":3.875,"t":0.26},{"x":4.875,"y":3.875,"t":0.19},
{"x":0,"y":4,"t":0.15},{"x":0.125,"y":4,"t":0.21},{"x":0.25,"y":4,"t":0.29},{"x":0.375,"y":4,"t":0.39},{"x":0.5,"y":4,"t":0.52},{"x":0.625,"y":4,"t":0.68},{"x":0.75,"y":4,"t":0.88},{"x":0.875,"y":4,"t":1.11},{"x":1,"y":4,"t":1.37},{"x":1.125,"y":4,"t":1.67},{"x":1.25,"y":4,"t":1.99},{"x":1.375,"y":4,"t":2.34},{"x":1.5,"y":4,"t":2.7},{"x":1.625,"y":4,"t":3.06},{"x":1.75,"y":4,"t":3.4},{"x":1.875,"y":4,"t":3.72},{"x":2,"y":4,"t":4},{"x":2.125,"y":4,"t":4.22},{"x":2.25,"y":4,"t":4.37},{"x":2.375,"y":4,"t":4.45},{"x":2.5,"y":4,"t":4.45},{"x":2.625,"y":4,"t":4.37},{"x":2.75,"y":4,"t":4.22},{"x":2.875,"y":4,"t":4},{"x":3,"y":4,"t":3.72},{"x":3.125,"y":4,"t":3.4},{"x":3.25,"y":4,"t":3.06},{"x":3.375,"y":4,"t":2.7},{"x":3.5,"y":4,"t":2.34},{"x":3.625,"y":4,"t":1.99},{"x":3.75,"y":4,"t":1.67},{"x":3.875,"y":4,"t":1.37},{"x":4,"y":4,"t":1.11},{"x":4.125,"y":4,"t":0.88},{"x":4.25,"y":4,"t":0.68},{"x":4.375,"y":4,"t":0.52},{"x":4.5,"y":4,"t":0.39},{"x":4.625,"y":4,"t":0.29},{"x":4.75,"y":4,"t":0.21},{"x":4.875,"y":4,"t":0.15},
{"x":0,"y":4.125,"t":0.12},{"x":0.125,"y":4.125,"t":0.17},{"x":0.25,"y":4.125,"t":0.23},{"x":0.375,"y":4.125,"t":0.31},{"x":0.5,"y":4.125,"t":0.41},{"x":0.625,"y":4.125,"t":0.54},{"x":0.75,"y":4.125,"t":0.69},{"x":0.875,"y":4.125,"t":0.88},{"x":1,"y":4.125,"t":1.09},{"x":1.125,"y":4.125,"t":1.32},{"x":1.25,"y":4.125,"t":1.58},{"x":1.375,"y":4.125,"t":1.86},{"x":1.5,"y":4.125,"t":2.14},{"x":1.625,"y":4.125,"t":2.43},{"x":1.75,"y":4.125,"t":2.7},{"x":1.875,"y":4.125,"t":2.95},{"x":2,"y":4.125,"t":3.17},{"x":2.125,"y":4.125,"t":3.34},{"x":2.25,"y":4.125,"t":3.47},{"x":2.375,"y":4.125,"t":3.53},{"x":2.5,"y":4.125,"t":3.53},{"x":2.625,"y":4.125,"t":3.47},{"x":2.75,"y":4.125,"t":3.34},{"x":2.875,"y":4.125,"t":3.17},{"x":3,"y":4.125,"t":2.95},{"x":3.125,"y":4.125,"t":2.7},{"x":3.25,"y":4.125,"t":2.43},{"x":3.375,"y":4.125,"t":2.14},{"x":3.5,"y":4.125,"t":1.86},{"x":3.625,"y":4.125,"t":1.58},{"x":3.75,"y":4.125,"t":1.32},{"x":3.875,"y":4.125,"t":1.09},{"x":4,"y":4.125,"t":0.88},{"x":4.125,"y":4.125,"t":0.69},{"x":4.25,"y":4.125,"t":0.54},{"x":4.375,"y":4.125,"t":0.41},{"x":4.5,"y":4.125,"t":0.31},{"x":4.625,"y":4.125,"t":0.23},{"x":4.75,"y":4.125,"t":0.17},{"x":4.875,"y":4.125,"t":0.12},
{"x":0,"y":4.25,"t":0.09},{"x":0.125,"y":4.25,"t":0.13},{"x":0.25,"y":4.25,"t":0.18},{"x":0.375,"y":4.25,"t":0.24},{"x":0.5,"y":4.25,"t":0.32},{"x":0.625,"y":4.25,"t":0.42},{"x":0.75,"y":4.25,"t":0.54},{"x":0.875,"y":4.25,"t":0.68},{"x":1,"y":4.25,"t":0.85},{"x":1.125,"y":4.25,"t":1.03},{"x":1.25,"y":4.25,"t":1.23},{"x":1.375,"y":4.25,"t":1.44},{"x":1.5,"y":4.25,"t":1.67},{"x":1.625,"y":4.25,"t":1.89},{"x":1.75,"y":4.25,"t":2.1},{"x":1.875,"y":4.25,"t":2.3},{"x":2,"y":4.25,"t":2.47},{"x":2.125,"y":4.25,"t":2.6},{"x":2.25,"y":4.25,"t":2.7},{"x":2.375,"y":4.25,"t":2.75},{"x":2.5,"y":4.25,"t":2.75},{"x":2.625,"y":4.25,"t":2.7},{"x":2.75,"y":4.25,"t":2.6},{"x":2.875,"y":4.25,"t":2.47},{"x":3,"y":4.25,"t":2.3},{"x":3.125,"y":4.25,"t":2.1},{"x":3.25,"y":4.25,"t":1.89},{"x":3.375,"y":4.25,"t":1.67},{"x":3.5,"y":4.25,"t":1.44},{"x":3.625,"y":4.25,"t":1.23},{"x":3.75,"y":4.25,"t":1.03},{"x":3.875,"y":4.25,"t":0.85},{"x":4,"y":4.25,"t":0.68},{"x":4.125,"y":4.25,"t":0.54},{"x":4.25,"y":4.25,"t":0.42},{"x":4.375,"y":4.25,"t":0.32},{"x":4.5,"y":4.25,"t":0.24},{"x":4.625,"y":4.25,"t":0.18},{"x":4.75,"y":4.25,"t":0.13},{"x":4.875,"y":4.25,"t":0.09},
{"x":0,"y":4.375,"t":0.07},{"x":0.125,"y":4.375,"t":0.1},{"x":0.25,"y":4.375,"t":0.14},{"x":0.375,"y":4.375,"t":0.19},{"x":0.5,"y":4.375,"t":0.25},{"x":0.625,"y":4.375,"t":0.32},{"x":0.75,"y":4.375,"t":0.41},{"x":0.875,"y":4.375,"t":0.52},{"x":1,"y":4.375,"t":0.65},{"x":1.125,"y":4.375,"t":0.79},{"x":1.25,"y":4.375,"t":0.94},{"x":1.375,"y":4.375,"t":1.11},{"x":1.5,"y":4.375,"t":1.28},{"x":1.625,"y":4.375,"t":1.44},{"x":1.75,"y":4.375,"t":1.61},{"x":1.875,"y":4.375,"t":1.76},{"x":2,"y":4.375,"t":1.89},{"x":2.125,"y":4.375,"t":1.99},{"x":2.25,"y":4.375,"t":2.06},{"x":2.375,"y":4.375,"t":2.1},{"x":2.5,"y":4.375,"t":2.1},{"x":2.625,"y":4.375,"t":2.06},{"x":2.75,"y":4.375,"t":1.99},{"x":2.875,"y":4.375,"t":1.89},{"x":3,"y":4.375,"t":1.76},{"x":3.125,"y":4.375,"t":1.61},{"x":3.25,"y":4.375,"t":1.44},{"x":3.375,"y":4.375,"t":1.28},{"x":3.5,"y":4.375,"t":1.11},{"x":3.625,"y":4.375,"t":0.94},{"x":3.75,"y":4.375,"t":0.79},{"x":3.875,"y":4.375,"t":0.65},{"x":4,"y":4.375,"t":0.52},{"x":4.125,"y":4.375,"t":0.41},{"x":4.25,"y":4.375,"t":0.32},{"x":4.375,"y":4.375,"t":0.25},{"x":4.5,"y":4.375,"t":0.19},{"x":4.625,"y":4.375,"t":0.14},{"x":4.75,"y":4.375,"t":0.1},{"x":4.875,"y":4.375,"t":0.07},
{"x":0,"y":4.5,"t":0.05},{"x":0.125,"y":4.5,"t":0.07},{"x":0.25,"y":4.5,"t":0.1},{"x":0.375,"y":4.5,"t":0.14},{"x":0.5,"y":4.5,"t":0.19},{"x":0.625,"y":4.5,"t":0.24},{"x":0.75,"y":4.5,"t":0.31},{"x":0.875,"y":4.5,"t":0.39},{"x":1,"y":4.5,"t":0.49},{"x":1.125,"y":4.5,"t":0.59},{"x":1.25,"y":4.5,"t":0.71},{"x":1.375,"y":4.5,"t":0.83},{"x":1.5,"y":4.5,"t":0.96},{"x":1.625,"y":4.5,"t":1.09},{"x":1.75,"y":4.5,"t":1.21},{"x":1.875,"y":4.5,"t":1.32},{"x":2,"y":4.5,"t":1.42},{"x":2.125,"y":4.5,"t":1.5},{"x":2.25,"y":4.5,"t":1.55},{"x":2.375,"y":4.5,"t":1.58},{"x":2.5,"y":4.5,"t":1.58},{"x":2.625,"y":4.5,"t":1.55},{"x":2.75,"y":4.5,"t":1.5},{"x":2.875,"y":4.5,"t":1.42},{"x":3,"y":4.5,"t":1.32},{"x":3.125,"y":4.5,"t":1.21},{"x":3.25,"y":4.5,"t":1.09},{"x":3.375,"y":4.5,"t":0.96},{"x":3.5,"y":4.5,"t":0.83},{"x":3.625,"y":4.5,"t":0.71},{"x":3.75,"y":4.5,"t":0.59},{"x":3.875,"y":4.5,"t":0.49},{"x":4,"y":4.5,"t":0.39},{"x":4.125,"y":4.5,"t":0.31},{"x":4.25,"y":4.5,"t":0.24},{"x":4.375,"y":4.5,"t":0.19},{"x":4.5,"y":4.5,"t":0.14},{"x":4.625,"y":4.5,"t":0.1},{"x":4.75,"y":4.5,"t":0.07},{"x":4.875,"y":4.5,"t":0.05},
{"x":0,"y":4.625,"t":0.04},{"x":0.125,"y":4.625,"t":0.06},{"x":0.25,"y":4.625,"t":0.08},{"x":0.375,"y":4.625,"t":0.1},{"x":0.5,"y":4.625,"t":0.14},{"x":0.625,"y":4.625,"t":0.18},{"x":0.75,"y":4.625,"t":0.23},{"x":0.875,"y":4.625,"t":0.29},{"x":1,"y":4.625,"t":0.36},{"x":1.125,"y":4.625,"t":0.44},{"x":1.25,"y":4.625,"t":0.52},{"x":1.375,"y":4.625,"t":0.61},{"x":1.5,"y":4.625,"t":0.71},{"x":1.625,"y":4.625,"t":0.8},{"x":1.75,"y":4.625,"t":0.89},{"x":1.875,"y":4.625,"t":0.98},{"x":2,"y":4.625,"t":1.05},{"x":2.125,"y":4.625,"t":1.11},{"x":2.25,"y":4.625,"t":1.15},{"x":2.375,"y":4.625,"t":1.17},{"x":2.5,"y":4.625,"t":1.17},{"x":2.625,"y":4.625,"t":1.15},{"x":2.75,"y":4.625,"t":1.11},{"x":2.875,"y":4.625,"t":1.05},{"x":3,"y":4.625,"t":0.98},{"x":3.125,"y":4.625,"t":0.89},{"x":3.25,"y":4.625,"t":0.8},{"x":3.375,"y":4.625,"t":0.71},{"x":3.5,"y":4.625,"t":0.61},{"x":3.625,"y":4.625,"t":0.52},{"x":3.75,"y":4.625,"t":0.44},{"x":3.875,"y":4.625,"t":0.36},{"x":4,"y":4.625,"t":0.29},{"x":4.125,"y":4.625,"t":0.23},{"x":4.25,"y":4.625,"t":0.18},{"x":4.375,"y":4.625,"t":0.14},{"x":4.5,"y":4.625,"t":0.1},{"x":4.625,"y":4.625,"t":0.08},{"x":4.75,"y":4.625,"t":0.06},{"x":4.875,"y":4.625,"t":0.04},
{"x":0,"y":4.75,"t":0.03},{"x":0.125,"y":4.75,"t":0.04},{"x":0.25,"y":4.75,"t":0.06},{"x":0.375,"y":4.75,"t":0.07},{"x":0.5,"y":4.75,"t":0.1},{"x":0.625,"y":4.75,"t":0.13},{"x":0.75,"y":4.75,"t":0.17},{"x":0.875,"y":4.75,"t":0.21},{"x":1,"y":4.75,"t":0.26},{"x":1.125,"y":4.75,"t":0.32},{"x":1.25,"y":4.75,"t":0.38},{"x":1.375,"y":4.75,"t":0.44},{"x":1.5,"y":4.75,"t":0.51},{"x":1.625,"y":4.75,"t":0.58},{"x":1.75,"y":4.75,"t":0.65},{"x":1.875,"y":4.75,"t":0.71},{"x":2,"y":4.75,"t":0.76},{"x":2.125,"y":4.75,"t":0.8},{"x":2.25,"y":4.75,"t":0.83},{"x":2.375,"y":4.75,"t":0.85},{"x":2.5,"y":4.75,"t":0.85},{"x":2.625,"y":4.75,"t":0.83},{"x":2.75,"y":4.75,"t":0.8},{"x":2.875,"y":4.75,"t":0.76},{"x":3,"y":4.75,"t":0.71},{"x":3.125,"y":4.75,"t":0.65},{"x":3.25,"y":4.75,"t":0.58},{"x":3.375,"y":4.75,"t":0.51},{"x":3.5,"y":4.75,"t":0.44},{"x":3.625,"y":4.75,"t":0.38},{"x":3.75,"y":4.75,"t":0.32},{"x":3.875,"y":4.75,"t":0.26},{"x":4,"y":4.75,"t":0.21},{"x":4.125,"y":4.75,"t":0.17},{"x":4.25,"y":4.75,"t":0.13},{"x":4.375,"y":4.75,"t":0.1},{"x":4.5,"y":4.75,"t":0.07},{"x":4.625,"y":4.75,"t":0.06},{"x":4.75,"y":4.75,"t":0.04},{"x":4.875,"y":4.75,"t":0.03},
{"x":0,"y":4.875,"t":0.02},{"x":0.125,"y":4.875,"t":0.03},{"x":0.25,"y":4.875,"t":0.04},{"x":0.375,"y":4.875,"t":0.05},{"x":0.5,"y":4.875,"t":0.07},{"x":0.625,"y":4.875,"t":0.09},{"x":0.75,"y":4.875,"t":0.12},{"x":0.875,"y":4.875,"t":0.15},{"x":1,"y":4.875,"t":0.19},{"x":1.125,"y":4.875,"t":0.23},{"x":1.25,"y":4.875,"t":0.27},{"x":1.375,"y":4.875,"t":0.32},{"x":1.5,"y":4.875,"t":0.37},{"x":1.625,"y":4.875,"t":0.41},{"x":1.75,"y":4.875,"t":0.46},{"x":1.875,"y":4.875,"t":0.5},{"x":2,"y":4.875,"t":0.54},{"x":2.125,"y":4.875,"t":0.57},{"x":2.25,"y":4.875,"t":0.59},{"x":2.375,"y":4.875,"t":0.6},{"x":2.5,"y":4.875,"t":0.6},{"x":2.625,"y":4.875,"t":0.59},{"x":2.75,"y":4.875,"t":0.57},{"x":2.875,"y":4.875,"t":0.54},{"x":3,"y":4.875,"t":0.5},{"x":3.125,"y":4.875,"t":0.46},{"x":3.25,"y":4.875,"t":0.41},{"x":3.375,"y":4.875,"t":0.37},{"x":3.5,"y":4.875,"t":0.32},{"x":3.625,"y":4.875,"t":0.27},{"x":3.75,"y":4.875,"t":0.23},{"x":3.875,"y":4.875,"t":0.19},{"x":4,"y":4.875,"t":0.15},{"x":4.125,"y":4.875,"t":0.12},{"x":4.25,"y":4.875,"t":0.09},{"x":4.375,"y":4.875,"t":0.07},{"x":4.5,"y":4.875,"t":0.05},{"x":4.625,"y":4.875,"t":0.04},{"x":4.75,"y":4.875,"t":0.03},{"x":4.875,"y":4.875,"t":0.02}
]},
"mark":{"type":"rect","binSpacing":0,"xOffset":0.5,"x2Offset":-0.5,"yOffset":-0.5,"y2Offset":0.5},
"encoding":{
"x":{"field":"x","type":"quantitative","bin":{"binned":true,"step":0.125},"scale":{"domain":[0,5],"nice":false,"zero":false},"axis":{"title":"x","values":[0,1,2,3,4,5],"format":"d","titlePadding":5}},
"y":{"field":"y","type":"quantitative","bin":{"binned":true,"step":0.125},"scale":{"domain":[0,5],"nice":false,"zero":false},"axis":{"title":"y","values":[0,1,2,3,4,5],"format":"d","titlePadding":8}},
"color":{"field":"t","type":"quantitative","scale":{"type":"linear","domain":[0,6.54,13.37,17.92],"range":["#0b0000","#ff0000","#ffff00","#ffffff"],"interpolate":"rgb"},"legend":{"type":"gradient","title":null,"orient":"right","offset":26,"direction":"vertical","gradientLength":387,"gradientThickness":20,"values":[0,2,4,6,8,10,12,14,16],"labelFont":"DejaVu Sans","labelFontSize":14,"labelColor":"#333","labelOffset":6,"gradientStrokeColor":"#333","gradientStrokeWidth":1,"padding":0,"labelOverlap":false,"encode":{"labels":{"update":{"baseline":{"value":"middle"}}}}}}
},
"config":{"view":{"stroke":"black","strokeWidth":1},"axis":{"grid":false,"domainColor":"black","tickColor":"black","tickSize":5,"labelPadding":4,"labelColor":"#333","labelFont":"DejaVu Sans","labelFontSize":14,"titleFont":"DejaVu Sans","titleFontSize":14,"titleFontWeight":"normal","titleColor":"#222"}}
}
